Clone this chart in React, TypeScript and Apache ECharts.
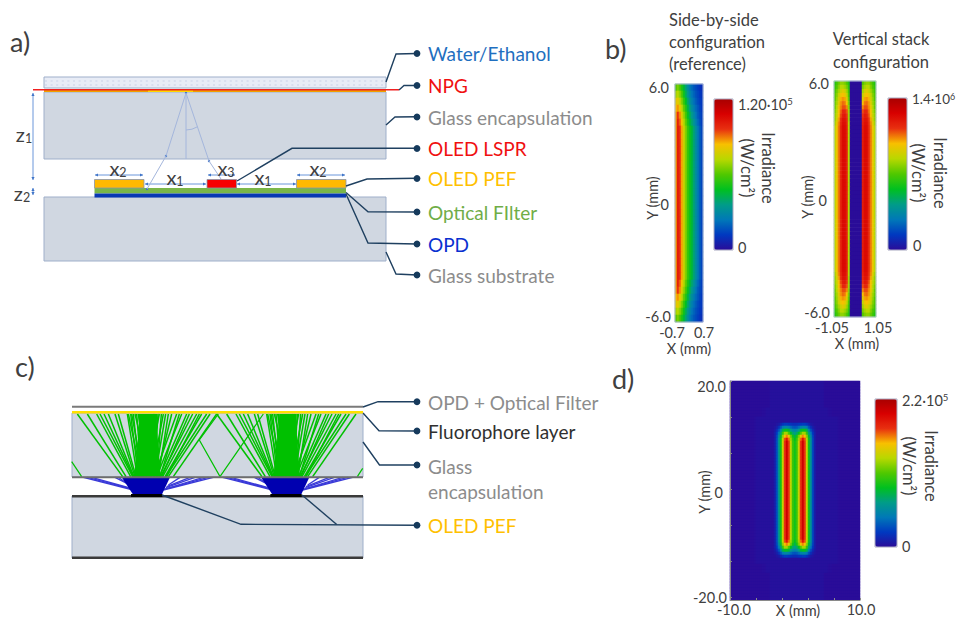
import React, { useEffect, useRef } from "react";
import * as echarts from "echarts";

const FONT = "Lato, Carlito, sans-serif";
const PALETTE = ["#2a0c98", "#0038c0", "#0078b8", "#009c88", "#00c020", "#50c800", "#b8d800", "#f8c000", "#e83010", "#d80000", "#a80000"];

// ---- panel b (left map): irradiance, % of scale, hand read; rows top to bottom
const bL0 = [50, 54, 50, 44, 38, 32, 26, 21, 18, 15, 13, 11, 9, 8];
const bL1 = [58, 60, 56, 50, 42, 35, 29, 24, 20, 17, 14, 12, 10, 9];
const bL2 = [66, 67, 62, 55, 47, 40, 33, 27, 23, 19, 16, 13, 11, 10];
const bL3 = [70, 73, 68, 61, 52, 45, 37, 31, 26, 22, 18, 15, 12, 10];
const bL4 = [72, 80, 74, 66, 57, 49, 41, 35, 30, 25, 20, 16, 13, 11];
const bL5 = [72, 83, 77, 69, 60, 52, 44, 38, 33, 28, 23, 18, 14, 11];
const bLM = [72, 84, 81, 72, 63, 55, 47, 42, 38, 32, 26, 21, 16, 12];
const bLeftRows = [
  bL0, bL1, bL2, bL3, bL4, bL5,
  bLM, bLM, bLM, bLM, bLM, bLM, bLM, bLM, bLM, bLM, bLM, bLM, bLM, bLM, bLM, bLM, bLM, bLM, bLM, bLM, bLM, bLM,
  bL5, bL4, bL3, bL2, bL1, bL0,
];

// ---- panel b (right map): left strip values; strip right of the blank band is its mirror
const bR0 = [44, 48, 52, 56, 56, 54, 50, 44];
const bR1 = [46, 50, 55, 60, 60, 58, 54, 46];
const bR2 = [48, 53, 58, 63, 66, 64, 58, 48];
const bR3 = [50, 55, 62, 68, 70, 68, 62, 50];
const bR4 = [50, 57, 64, 71, 73, 72, 66, 52];
const bR5 = [52, 58, 66, 73, 76, 75, 70, 54];
const bR6 = [52, 60, 68, 74, 78, 78, 74, 56];
const bR7 = [54, 60, 70, 76, 82, 82, 78, 58];
const bR8 = [56, 62, 70, 78, 84, 85, 80, 58];
const bR9 = [56, 64, 72, 80, 86, 86, 82, 58];
const bR10 = [58, 66, 74, 81, 87, 87, 83, 60];
const bRM = [60, 68, 75, 82, 88, 88, 84, 60];
const bRightStrips = [
  bR0, bR1, bR2, bR3, bR4, bR5, bR6, bR7, bR8, bR9, bR10,
  bRM, bRM, bRM, bRM, bRM, bRM, bRM, bRM, bRM, bRM, bRM, bRM, bRM, bRM, bRM, bRM, bRM, bRM, bRM,
  bRM, bRM, bRM, bRM, bRM, bRM, bRM, bRM, bRM, bRM, bRM, bRM, bRM, bRM, bRM, bRM, bRM,
  bR10, bR9, bR8, bR7, bR6, bR5, bR4, bR3, bR2, bR1, bR0,
];
const bRightBand = [0, 0, 0, 0, 0, 0];

// ---- panel d: active middle columns of the map, rows top to bottom
const dA0 = [1, 1, 1, 1, 1, 1, 1, 1, 1, 1, 1, 1, 1, 1, 1, 1, 1, 1, 1, 1, 1, 1, 1, 1, 1, 1, 1];
const dA1 = [1, 1, 1, 2, 3, 6, 9, 11, 11, 10, 9, 8, 8, 8, 9, 10, 11, 11, 9, 6, 3, 2, 1, 1, 1, 1, 1];
const dA2 = [1, 1, 2, 4, 8, 14, 21, 24, 24, 22, 18, 15, 14, 15, 18, 22, 24, 24, 21, 14, 8, 4, 2, 1, 1, 1, 1];
const dA3 = [1, 1, 3, 7, 14, 24, 36, 41, 41, 38, 30, 25, 23, 25, 30, 38, 41, 41, 36, 24, 14, 7, 3, 1, 1, 1, 1];
const dA4 = [1, 1, 4, 10, 20, 32, 47, 58, 58, 50, 40, 33, 30, 33, 40, 50, 58, 58, 47, 32, 20, 10, 4, 1, 1, 1, 1];
const dA5 = [1, 1, 4, 12, 25, 38, 56, 70, 74, 68, 54, 42, 36, 42, 54, 68, 74, 70, 56, 38, 25, 12, 4, 1, 1, 1, 1];
const dA6 = [1, 1, 4, 13, 28, 42, 60, 78, 86, 76, 58, 46, 40, 46, 58, 76, 86, 78, 60, 42, 28, 13, 4, 1, 1, 1, 1];
const dAM = [1, 1, 4, 13, 28, 42, 62, 80, 92, 80, 62, 47, 42, 47, 62, 80, 92, 80, 62, 42, 28, 13, 4, 1, 1, 1, 1];
// columns left and right of the active block: plain background or the faint halo
const dLeftBg = [0, 0, 0, 0, 0, 0, 0, 0, 0, 0, 0, 0, 0, 0, 0, 0, 0, 0, 0, 0];
const dRightBg = [0, 0, 0, 0, 0, 0, 0, 0, 0, 0, 0, 0, 0, 0, 0, 0, 0, 0];
const dLeftNarrow = [0, 0, 0, 0, 0, 0, 0, 0, 0, 0, 0, 0, 0, 0, 0, 0, 0.5, 0.5, 1, 1];
const dRightNarrow = [1, 1, 0.5, 0.5, 0, 0, 0, 0, 0, 0, 0, 0, 0, 0, 0, 0, 0, 0];
const dLeftHalo = [0, 0, 0, 0, 0, 0, 0, 0, 0, 0, 0, 0, 0.5, 1, 1, 1, 1, 1, 1, 1];
const dRightHalo = [1, 1, 1, 1, 1, 1, 1, 0.5, 0, 0, 0, 0, 0, 0, 0, 0, 0, 0];
const dRowPlan: [number[], number][] = [
  [dA0, 9], [dA0, 3], [dA0, 2], [dA1, 1], [dA2, 1], [dA3, 1], [dA4, 1], [dA5, 1], [dA6, 1],
  [dAM, 33],
  [dA6, 1], [dA5, 1], [dA4, 1], [dA3, 1], [dA2, 1], [dA1, 1], [dA0, 2], [dA0, 3], [dA0, 9],
];
const dPadPlan = ["bg", "narrow", "halo", "halo", "halo", "halo", "halo", "halo", "halo", "halo", "halo", "halo", "halo", "halo", "halo", "halo", "halo", "narrow", "bg"];

// ---- tick labels
const bLeftYTicks = ["6.0", "0", "-6.0"];
const bLeftXTicks = ["-0.7", "0.7"];
const bRightXTicks = ["-1.05", "1.05"];
const dYTicks = ["20.0", "0", "-20.0"];
const dXTicks = ["-10.0", "10.0"];

// ---- layer legends
const legendA = [
  { name: "Water/Ethanol", color: "#1f6fc0" },
  { name: "NPG", color: "#f01010" },
  { name: "Glass encapsulation", color: "#8c8c8c" },
  { name: "OLED LSPR", color: "#f01010" },
  { name: "OLED PEF", color: "#ffc000" },
  { name: "Optical FIlter", color: "#70ad47" },
  { name: "OPD", color: "#0a30d0" },
  { name: "Glass substrate", color: "#8c8c8c" },
];

// ---- ray tables of panel c: [top, bottom] crossings
const greenRays = [
  [232, 368], [262, 378], [290, 392], [300, 398], [325, 402], [355, 408], [382, 412], [392, 415], [400, 420],
  [410, 425], [418, 430], [425, 408], [432, 440], [440, 425], [448, 435], [455, 445], [462, 420], [470, 450],
  [478, 440], [468, 470], [490, 455], [497, 465], [515, 470], [530, 462], [545, 470], [560, 478], [578, 482],
  [590, 488], [605, 495], [620, 498], [395, 430], [405, 450], [445, 415], [452, 425], [460, 460], [428, 455],
  [385, 425], [415, 440], [422, 418], [436, 432], [444, 450], [458, 438], [466, 430], [474, 462], [484, 470],
  [505, 475], [538, 480], [568, 485], [345, 405], [312, 400], [598, 500], [630, 505], [650, 520],
];
const blueRays = [
  [250, 300, 400], [262, 298, 400], [275, 297, 400], [345, 290, 400], [355, 295, 402], [640, 300, 490], [625, 298, 492],
  [610, 297, 495], [570, 290, 500], [585, 293, 498], [540, 285, 505],
];

function buildMatrix(rows: number[][]) {
  const out: number[][] = [];
  rows.forEach((r, y) => r.forEach((v, x) => out.push([x, y, v])));
  return out;
}

function seq(n: number) {
  return Array.from({ length: n }, (_, i) => String(i));
}

function App() {
  const ref = useRef<HTMLDivElement>(null);
  useEffect(() => {
    document.body.style.margin = "0";
    const chart = echarts.init(ref.current!, undefined, { renderer: "svg" });

    const bRightRows = bRightStrips.map((s) => [...s, ...bRightBand, ...s.slice(0, 7).reverse()]);
    const dRows: number[][] = [];
    dRowPlan.forEach(([active, count], i) => {
      const p = dPadPlan[i];
      const L = p === "bg" ? dLeftBg : p === "narrow" ? dLeftNarrow : dLeftHalo;
      const R = p === "bg" ? dRightBg : p === "narrow" ? dRightNarrow : dRightHalo;
      for (let k = 0; k < count; k++) dRows.push([...L, ...active, ...R]);
    });

    const g: any[] = [];
    const DARK = "#1f4060";
    const TXT = "#404040";
    const text = (t: string, x: number, y: number, size: number, fill = TXT, align = "left", rot = 0, rich?: any) =>
      g.push({
        type: "text",
        x,
        y,
        rotation: rot,
        z: 60,
        silent: true,
        style: {
          text: t, x: 0, y: 0, fontSize: size, fontFamily: FONT, fill,
          align, verticalAlign: "middle", textAlign: align, textVerticalAlign: "middle", rich,
        },
      });
    const rect = (x1: number, y1: number, x2: number, y2: number, fill: string, stroke?: string, lw = 1, z = 5) =>
      g.push({ type: "rect", z, silent: true, shape: { x: x1, y: y1, width: x2 - x1, height: y2 - y1 }, style: { fill, stroke, lineWidth: stroke ? lw : 0 } });
    const line = (x1: number, y1: number, x2: number, y2: number, stroke: string, lw = 1, z = 6, dash?: number[]) =>
      g.push({ type: "line", z, silent: true, shape: { x1, y1, x2, y2 }, style: { stroke, lineWidth: lw, lineDash: dash } });
    const poly = (pts: number[][], stroke = DARK, lw = 1.4, z = 8) =>
      g.push({ type: "polyline", z, silent: true, shape: { points: pts }, style: { stroke, lineWidth: lw, fill: "none" } });
    const tri = (pts: number[][], fill: string, z = 7) =>
      g.push({ type: "polygon", z, silent: true, shape: { points: pts }, style: { fill } });
    const dot = (x: number, y: number) =>
      g.push({ type: "circle", z: 9, silent: true, shape: { cx: x, cy: y, r: 3.4 }, style: { fill: "#163a5c" } });
    const leader = (pts: number[][]) => { poly(pts); };
    const BLUE = "#5a8ad6";
    const hArrow = (x1: number, x2: number, y: number) => {
      line(x1, y, x2, y, BLUE, 0.9);
      tri([[x1, y], [x1 + 3, y - 1.6], [x1 + 3, y + 1.6]], "#3f74c8");
      tri([[x2, y], [x2 - 3, y - 1.6], [x2 - 3, y + 1.6]], "#3f74c8");
    };
    const vArrow = (x: number, y1: number, y2: number) => {
      line(x, y1, x, y2, BLUE, 0.9);
      tri([[x, y1], [x - 1.6, y1 + 3], [x + 1.6, y1 + 3]], "#3f74c8");
      tri([[x, y2], [x - 1.6, y2 - 3], [x + 1.6, y2 - 3]], "#3f74c8");
    };
    const subRich = { s: { fontSize: 12.5, fontFamily: FONT, fill: TXT, verticalAlign: "bottom", padding: [9, 0, 0, 0] }, b: { fontSize: 20, fontFamily: FONT, fill: TXT } };
    const supRich = (size: number) => ({
      b: { fontSize: size, fontFamily: FONT, fill: TXT },
      u: { fontSize: size * 0.66, fontFamily: FONT, fill: TXT, verticalAlign: "top", padding: [0, 0, 6, 0] },
    });

    // ---------- panel a
    text("a)", 10, 41, 27);
    const GLASS = "#d0d7e1";
    const EDGE = "#9fafca";
    rect(44, 77, 386, 88, "#e8ecf6", EDGE);
    line(45, 81, 385, 81, "#d3d9ec", 1.4, 6, [2, 3.6]);
    line(45, 85, 385, 85, "#d3d9ec", 1.4, 6, [2, 3.6]);
    rect(44, 92, 386, 159, GLASS, EDGE);
    rect(44, 197, 386, 261, GLASS, EDGE);
    rect(44, 90, 386, 92, "#f0a000");
    rect(148, 90, 193, 92, "#ffd800", undefined, 1, 6);
    line(33, 89.7, 399, 89.7, "#f02020", 1.6, 7);
    const RAY = "#a4b6dc";
    line(186, 93, 186, 159, RAY, 1);
    poly([[186, 93], [166, 156], [147, 189]], RAY, 1);
    poly([[186, 93], [209, 161], [221, 179]], RAY, 1);
    g.push({ type: "arc", z: 6, silent: true, shape: { cx: 186, cy: 108, r: 22, startAngle: Math.PI * 0.5 - 0.55, endAngle: Math.PI * 0.5 }, style: { stroke: RAY, lineWidth: 1, fill: "none" } });
    [[166, 156], [209, 161], [147, 189], [186, 93]].forEach(([x, y]) =>
      g.push({ type: "circle", z: 7, silent: true, shape: { cx: x, cy: y, r: 1.2 }, style: { fill: "#3f74c8" } }));
    rect(94.5, 188, 346, 193.5, "#7ab648", undefined, 1, 6);
    rect(94.5, 193.5, 346, 197.5, "#0838b4", undefined, 1, 6);
    rect(94.5, 179.5, 144, 188, "#ffb900", "#8a94a8", 0.8, 7);
    rect(296.5, 179.5, 346, 188, "#ffb900", "#8a94a8", 0.8, 7);
    rect(207, 179.5, 236.5, 188, "#f80000", "#8a94a8", 0.8, 7);
    vArrow(33, 93, 180);
    vArrow(33, 188, 195);
    hArrow(95, 143, 175);
    hArrow(145, 206, 184);
    hArrow(208, 235, 175);
    hArrow(237, 296, 184);
    hArrow(297, 345, 175);
    const subLabel = (b: string, n: string, x: number, y: number) => text(`{b|${b}}{s|${n}}`, x, y, 20, TXT, "center", 0, subRich);
    subLabel("z", "1", 24, 134);
    subLabel("z", "2", 22, 193);
    subLabel("x", "2", 118, 168);
    subLabel("x", "1", 175, 177);
    subLabel("x", "3", 226, 168);
    subLabel("x", "1", 263, 177);
    subLabel("x", "2", 318, 168);
    const aY = [53.5, 85.5, 117, 148.5, 178.5, 212, 244, 275];
    const aPaths = [
      [[386, 82], [396, 54], [417, 53.5]],
      [[399, 90], [404, 85.5], [417, 85.5]],
      [[386, 125], [395, 117], [417, 116.7]],
      [[237, 181], [292, 148.3], [417, 148.3]],
      [[346, 186], [367, 179], [417, 178.3]],
      [[346, 192.5], [368, 211.7], [417, 212]],
      [[346, 194], [368, 243], [417, 244]],
      [[386, 252], [396, 274], [417, 275]],
    ];
    aPaths.forEach((p, i) => {
      leader(p);
      dot(417, aY[i]);
      text(legendA[i].name, 428, aY[i], 19, legendA[i].color);
    });

    // ---------- panel c
    text("c)", 15, 366, 27);
    const zx = (v: number) => v / 3;
    const zy = (v: number) => v / 3 + 390;
    rect(72, 413, 363, 477, GLASS, EDGE);
    rect(72, 496, 363, 558, GLASS, EDGE);
    rect(72, 405.7, 363, 407.7, "#7a7a7a");
    rect(72, 411, 363, 413.6, "#ffe000", undefined, 1, 9);
    [0, 418].forEach((shift) => {
      tri([[zx(422 + shift), zy(72)], [zx(468 + shift), zy(72)], [zx(482 + shift), zy(260)], [zx(402 + shift), zy(260)]], "#00c000", 6);
      greenRays.forEach(([t, b]) => line(zx(t + shift), zy(72), zx(b + shift), zy(260), "#00c000", 1.5, 6));
      blueRays.forEach(([t, y, b]) => line(zx(t + shift), zy(262), zx(b + shift), zy(y), "#3a3ad8", 1.3, 6));
      tri([[zx(365 + shift), zy(262)], [zx(510 + shift), zy(262)], [zx(485 + shift), zy(315)], [zx(400 + shift), zy(315)]], "#0000b0", 6);
      rect(zx(393 + shift), 494, zx(487 + shift), 497, "#000", undefined, 1, 7);
    });
    poly([[zx(655), zy(72)], [zx(598), zy(150)], [zx(660), zy(260)], [zx(790), zy(72)]], "#00c000", 1.2, 6);
    line(zx(215), zy(215), zx(245), zy(260), "#00c000", 1.2);
    line(zx(1088), zy(235), zx(1072), zy(260), "#00c000", 1.2);
    rect(72, 476.2, 363, 478.2, "#6e6e6e", undefined, 1, 7);
    rect(72, 495, 363, 497.4, "#3a3a3a", undefined, 1, 6);
    rect(72, 556.6, 363, 559, "#3a3a3a", undefined, 1, 6);
    leader([[363, 407], [378, 401.7], [417, 401.7]]);
    leader([[363, 413], [379, 430.7], [417, 431]]);
    leader([[363, 442], [379.5, 465], [417, 465]]);
    leader([[162, 495], [241, 524.3], [417, 525.3]]);
    leader([[302, 495], [336.7, 524.5]]);
    [401.7, 431, 465, 525.3].forEach((y) => dot(417, y));
    text("OPD + Optical Filter", 428, 402, 19, "#8c8c8c");
    text("Fluorophore layer", 428, 431, 19, "#303030");
    text("Glass", 428, 466, 19, "#8c8c8c");
    text("encapsulation", 428, 491, 19, "#8c8c8c");
    text("OLED PEF", 428, 525, 19, "#ffc000");

    // ---------- panel b
    text("b)", 605, 48, 27);
    ["Side-by-side", "configuration", "(reference)"].forEach((t, i) => text(t, 669, 20 + 22 * i, 16.5));
    ["Vertical stack", "configuration"].forEach((t, i) => text(t, 881, 39 + 22.5 * i, 16.5, TXT, "center"));
    const RIGHTTURN = -Math.PI / 2;
    const LEFTTURN = Math.PI / 2;
    const TICK = 14.5;
    rect(675, 84, 703, 322, "none", "#a8b8d4", 1, 20);
    rect(834, 81, 876, 317, "none", "#c0cce0", 1, 20);
    text(bLeftYTicks[0], 669, 87, TICK, TXT, "right");
    text(bLeftYTicks[1], 669, 204, TICK, TXT, "right");
    text(bLeftYTicks[2], 671, 316, TICK, TXT, "right");
    text("Y (mm)", 652, 198, TICK, TXT, "center", LEFTTURN);
    text(bLeftXTicks[0], 672, 332.5, TICK, TXT, "center");
    text(bLeftXTicks[1], 704, 332.5, TICK, TXT, "center");
    text("X (mm)", 689, 348.5, TICK, TXT, "center");
    const s5 = supRich(14.5);
    text("{b|1.20·10}{u|5}", 738, 104, TICK, TXT, "left", 0, s5);
    text("0", 738, 247, TICK);
    text("Irradiance", 768, 168, 16.5, TXT, "center", RIGHTTURN);
    text("(W/cm²)", 747, 168, 16.5, TXT, "center", RIGHTTURN);
    text(bLeftYTicks[0], 829, 83, TICK, TXT, "right");
    text(bLeftYTicks[1], 827, 200, TICK, TXT, "right");
    text(bLeftYTicks[2], 830, 312, TICK, TXT, "right");
    text("Y (mm)", 807, 197, TICK, TXT, "center", LEFTTURN);
    text(bRightXTicks[0], 832, 327.5, TICK, TXT, "center");
    text(bRightXTicks[1], 878, 327.5, TICK, TXT, "center");
    text("X (mm)", 857, 343.5, TICK, TXT, "center");
    text("{b|1.4·10}{u|6}", 912, 99, 13.5, TXT, "left", 0, supRich(13.5));
    text("0", 913, 245, TICK);
    text("Irradiance", 940, 173, 16.5, TXT, "center", RIGHTTURN);
    text("(W/cm²)", 918, 173, 16.5, TXT, "center", RIGHTTURN);

    // ---------- panel d
    text("d)", 612, 378, 27);
    text(dYTicks[0], 726, 386, TICK, TXT, "right");
    text(dYTicks[1], 723, 492, TICK, TXT, "right");
    text(dYTicks[2], 727, 597, TICK, TXT, "right");
    text("Y (mm)", 704, 492, TICK, TXT, "center", LEFTTURN);
    text(dXTicks[0], 734, 609, TICK, TXT, "center");
    text(dXTicks[1], 861, 609, TICK, TXT, "center");
    text("X (mm)", 798, 610, TICK, TXT, "center");
    text("{b|2.2·10}{u|5}", 902, 400, TICK, TXT, "left", 0, s5);
    text("0", 902, 546, TICK);
    text("Irradiance", 931, 466, 16.5, TXT, "center", RIGHTTURN);
    text("(W/cm²)", 909, 466, 16.5, TXT, "center", RIGHTTURN);
    rect(714, 99, 733, 250, "none", "#a8a8c0", 1, 20);
    rect(888, 98, 907, 250, "none", "#a8a8c0", 1, 20);
    rect(875, 399, 897, 547, "none", "#a8a8c0", 1, 20);

    const maps = [
      { rows: bLeftRows, left: 675, top: 84, width: 28, height: 238, vm: [714, 99, 19, 151] },
      { rows: bRightRows, left: 834, top: 81, width: 42, height: 236, vm: [888, 98, 19, 152] },
      { rows: dRows, left: 730, top: 381, width: 130, height: 219, vm: [875, 399, 22, 148] },
    ];
    const hasFrame = (i: number) => i === 2;
    chart.setOption({
      animation: false,
      backgroundColor: "#ffffff",
      tooltip: { show: false },
      grid: maps.map((m) => ({ left: m.left, top: m.top, width: m.width, height: m.height, containLabel: false })),
      xAxis: maps.map((m, i) => ({
        type: "category", gridIndex: i, data: seq(m.rows[0].length), show: hasFrame(i),
        axisLabel: { show: false }, z: 10,
        axisLine: { show: true, lineStyle: { color: "#8a8a8a", width: 1 } },
        axisTick: { show: true, inside: true, length: 2, interval: 12, lineStyle: { color: "#8a8a8a" } },
        splitLine: { show: false },
      })),
      yAxis: maps.map((m, i) => ({
        type: "category", gridIndex: i, data: seq(m.rows.length), inverse: true, show: hasFrame(i),
        axisLabel: { show: false }, z: 10,
        axisLine: { show: true, lineStyle: { color: "#8a8a8a", width: 1 } },
        axisTick: { show: true, inside: true, length: 2, interval: 11, lineStyle: { color: "#8a8a8a" } },
        splitLine: { show: false },
      })),
      visualMap: maps.map((m, i) => ({
        type: "continuous", seriesIndex: i, min: 0, max: 100, show: true, calculable: false, hoverLink: false,
        left: m.vm[0], top: m.vm[1], itemWidth: m.vm[2], itemHeight: m.vm[3], padding: 0,
        inRange: { color: PALETTE }, text: undefined, showLabel: false,
      })),
      series: maps.map((m, i) => ({
        type: "heatmap", xAxisIndex: i, yAxisIndex: i, data: buildMatrix(m.rows),
        progressive: 0, silent: true, label: { show: false }, emphasis: { disabled: true },
      })),
      graphic: { elements: g },
    });
    return () => chart.dispose();
  }, []);
  return <div ref={ref} style={{ position: "relative", width: 958, height: 619 }} />;
}

export default App;
